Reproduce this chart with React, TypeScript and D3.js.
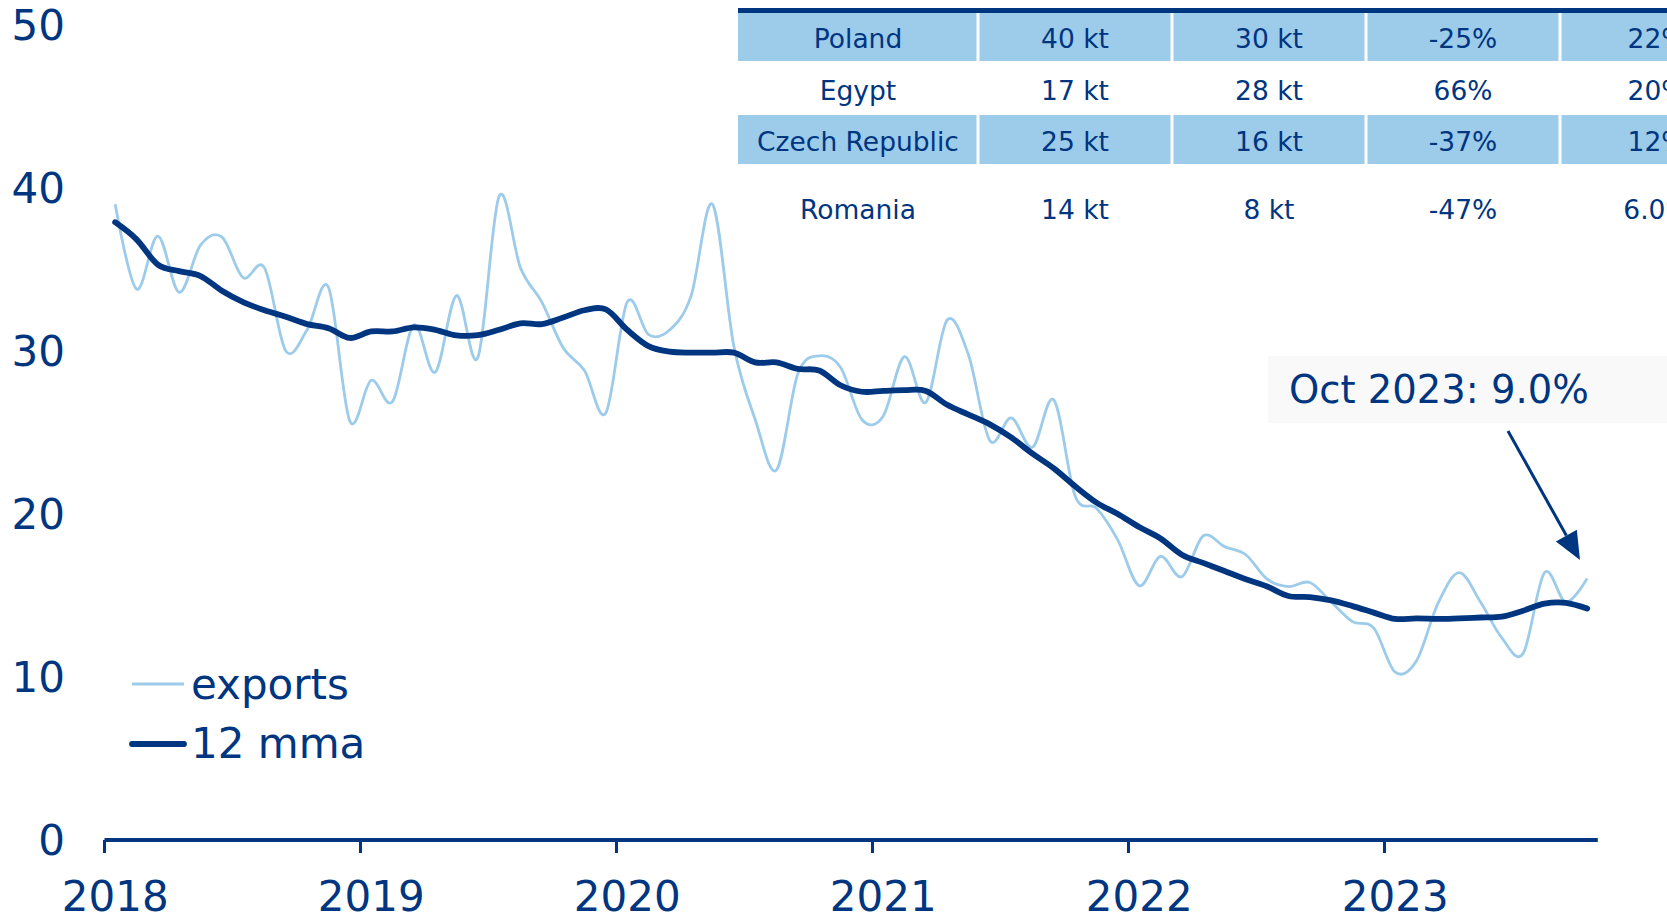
import React from "react";
import * as d3 from "d3";

const yearLabels = ["2018", "2019", "2020", "2021", "2022", "2023"];
const monthCount = 70; // Jan 2018 .. Oct 2023

const exportsSeries = [
  39.0, 33.8, 37.05, 33.6, 36.5, 37.0, 34.5, 35.1, 30.0, 31.3, 33.9, 25.7,
  28.2, 26.9, 31.6, 28.7, 33.4, 29.6, 39.5, 35.1, 33.0, 30.2, 28.8, 26.2,
  33.0, 31.0, 31.3, 33.4, 39.0, 30.3, 25.8, 22.7, 28.6, 29.7, 29.0, 25.8,
  26.0, 29.65, 26.85, 31.9, 29.75, 24.5, 25.9, 24.1, 27.0, 21.1, 20.35, 18.4,
  15.6, 17.4, 16.15, 18.65, 18.0, 17.5, 16.0, 15.55, 15.8, 14.6, 13.4, 13.0,
  10.3, 11.0, 14.5, 16.4, 14.6, 12.4, 11.45, 16.4, 14.6, 16.05,
];

const mmaSeries = [
  37.9, 36.85, 35.3, 34.9, 34.6, 33.7, 33.0, 32.5, 32.1, 31.65, 31.4, 30.8,
  31.2, 31.2, 31.45, 31.3, 30.96, 30.97, 31.3, 31.7, 31.65, 32.05, 32.5, 32.55,
  31.3, 30.3, 29.96, 29.9, 29.9, 29.9, 29.3, 29.3, 28.9, 28.8, 27.9, 27.5,
  27.55, 27.6, 27.55, 26.7, 26.1, 25.5, 24.7, 23.7, 22.8, 21.7, 20.7, 20.0,
  19.2, 18.5, 17.5, 17.0, 16.5, 16.0, 15.55, 14.97, 14.9, 14.7, 14.35, 13.95,
  13.56, 13.6, 13.56, 13.6, 13.65, 13.7, 14.07, 14.5, 14.55, 14.2,
];

const yTicks = [0, 10, 20, 30, 40, 50];

const tableCountries = ["Poland", "Egypt", "Czech Republic", "Romania"];
const tableCol2 = ["40 kt", "17 kt", "25 kt", "14 kt"];
const tableCol3 = ["30 kt", "28 kt", "16 kt", "8 kt"];
const tableCol4 = ["-25%", "66%", "-37%", "-47%"];
const tableCol5 = ["22%", "20%", "12%", "6.0%"];

const legendLabels = ["exports", "12 mma"];
const annotationText = "Oct 2023: 9.0%";

const NAVY = "#003580";
const LIGHT = "#9dcbea";
const FONT = "'DejaVu Sans', Verdana, sans-serif";

export default function App() {
  const W = 1667;
  const H = 920;
  const months = d3.range(monthCount);
  const x = d3
    .scaleBand<number>()
    .domain(months)
    .range([104.5, 104.5 + 70 * (256 / 12)])
    .paddingInner(0)
    .paddingOuter(0);
  const cx = (m: number) => (x(m) as number) + x.bandwidth() / 2;
  const y = d3.scaleLinear().domain([0, 50]).range([840, 25]);

  const line = d3
    .line<number>()
    .x((_, i) => cx(i))
    .y((d) => y(d))
    .curve(d3.curveCardinal.tension(0));

  const [r0, r1] = x.range();

  // table geometry
  const colEdges = [738, 978, 1172, 1366, 1560, 1754];
  const rowBands = [
    [13, 61, true],
    [61, 115, false],
    [115, 164, true],
    [164, 254, false],
  ] as [number, number, boolean][];
  const rowCenters = [38, 90, 141, 209];
  const cols = [tableCountries, tableCol2, tableCol3, tableCol4, tableCol5];

  // arrow
  const a0 = [1508, 431];
  const tip = [1580, 560];
  const dx = tip[0] - a0[0];
  const dy = tip[1] - a0[1];
  const len = Math.hypot(dx, dy);
  const ux = dx / len;
  const uy = dy / len;
  const bx = tip[0] - 28 * ux;
  const by = tip[1] - 28 * uy;
  const px = uy;
  const py = -ux;
  const head = `${tip[0]},${tip[1]} ${bx + 12 * px},${by + 12 * py} ${bx - 12 * px},${by - 12 * py}`;

  return (
    <svg
      width={W}
      height={H}
      style={{ position: "absolute", left: 0, top: 0, background: "#fff" }}
      fontFamily={FONT}
    >
      {/* table */}
      <rect x={738} y={8} width={W - 738} height={5} fill={NAVY} />
      {rowBands.map(([t, b, filled], i) =>
        filled ? (
          <rect key={"rb" + i} x={738} y={t} width={W - 738} height={b - t} fill={LIGHT} />
        ) : null
      )}
      {colEdges.slice(1, 5).map((e, i) => (
        <rect key={"sep" + i} x={e - 1.5} y={13} width={3} height={151} fill="#fff" />
      ))}
      {cols.map((col, ci) =>
        col.map((txt, ri) => (
          <text
            key={`t${ci}-${ri}`}
            x={(colEdges[ci] + colEdges[ci + 1]) / 2}
            y={rowCenters[ri] + 9.5}
            textAnchor="middle"
            fontSize={26.5}
            fill={NAVY}
          >
            {txt}
          </text>
        ))
      )}

      {/* annotation */}
      <rect x={1268} y={356} width={W - 1268} height={67} fill="#f9f9f9" />
      <text x={1289} y={403} fontSize={38.5} fill={NAVY}>
        {annotationText}
      </text>
      <line
        x1={a0[0]}
        y1={a0[1]}
        x2={bx}
        y2={by}
        stroke={NAVY}
        strokeWidth={3}
      />
      <polygon points={head} fill={NAVY} />

      {/* y tick labels */}
      {yTicks.map((t) => (
        <text
          key={"y" + t}
          x={65}
          y={y(t)}
          dy="0.36em"
          textAnchor="end"
          fontSize={42}
          fill={NAVY}
        >
          {t}
        </text>
      ))}

      {/* x axis */}
      <line x1={r0} x2={r1} y1={840} y2={840} stroke={NAVY} strokeWidth={4} />
      {yearLabels.map((lab, i) => (
        <g key={lab}>
          <line
            x1={x(i * 12) as number}
            x2={x(i * 12) as number}
            y1={840}
            y2={853}
            stroke={NAVY}
            strokeWidth={3}
          />
          <text
            x={cx(i * 12)}
            y={911}
            textAnchor="middle"
            fontSize={42}
            fill={NAVY}
          >
            {lab}
          </text>
        </g>
      ))}

      {/* series */}
      <path d={line(exportsSeries) || ""} fill="none" stroke={LIGHT} strokeWidth={2.8} />
      <path
        d={line(mmaSeries) || ""}
        fill="none"
        stroke={NAVY}
        strokeWidth={5.8}
        strokeLinecap="round"
      />

      {/* legend */}
      <line x1={132} x2={184} y1={684} y2={684} stroke={LIGHT} strokeWidth={2.8} />
      <text x={191} y={699} fontSize={42} fill={NAVY}>
        {legendLabels[0]}
      </text>
      <line
        x1={132}
        x2={184}
        y1={744}
        y2={744}
        stroke={NAVY}
        strokeWidth={5.8}
        strokeLinecap="round"
      />
      <text x={191} y={758} fontSize={42} fill={NAVY}>
        {legendLabels[1]}
      </text>
    </svg>
  );
}
